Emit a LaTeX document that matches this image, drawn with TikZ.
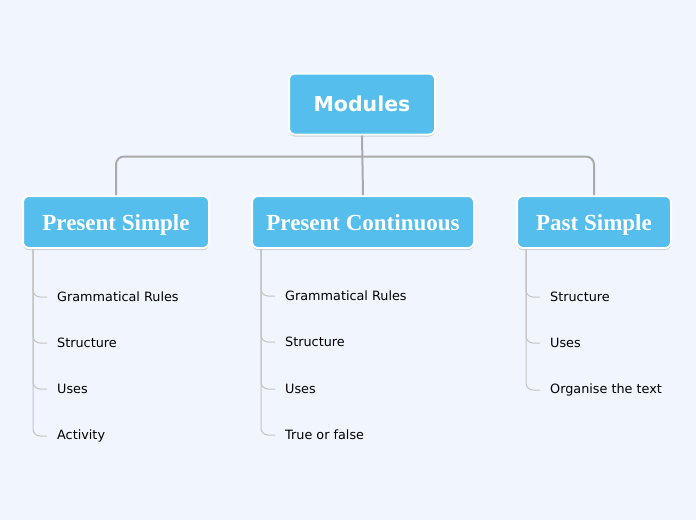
\documentclass[tikz,border=0pt]{standalone}
\usepackage{fontspec}
\usepackage{tikz}
\usetikzlibrary{shadows}
\newfontfamily\leaffont{DejaVu Sans}
\newfontfamily\titlefont{Liberation Serif}
\definecolor{pagebg}{RGB}{241, 245, 254}
\definecolor{topicbox}{RGB}{86, 190, 236}
\definecolor{trunkline}{RGB}{170, 170, 170}
\definecolor{twigline}{RGB}{196, 196, 196}

\begin{document}
\begin{tikzpicture}[x=1pt, y=-1pt,
		topic/.style={fill=topicbox, draw=white, line width=2pt, rounded corners=6pt,
			text=white, inner sep=0pt, minimum height=52pt,
			drop shadow={shadow xshift=0pt, shadow yshift=-2pt, opacity=0.35}},
		branch/.style={topic, text height=17pt, text depth=1pt,
			font=\titlefont\bfseries\fontsize{23}{26}\selectfont},
		leaf/.style={anchor=west, inner sep=0pt, font=\leaffont\fontsize{12.8}{14}\selectfont},
		trunk/.style={trunkline, line width=2pt, rounded corners=8pt},
		twig/.style={twigline, line width=1pt, rounded corners=7pt}]
			\def\gap{10}
			
			\fill[pagebg] (0, 0) rectangle (696, 520);
			
			% central topic and main branches
			\node[topic, minimum width=146pt, minimum height=61pt,
				font=\leaffont\bfseries\fontsize{20.5}{24}\selectfont] (mod) at (362, 104) {Modules};
			\node[branch, minimum width=186pt] (ps) at (116, 222) {Present Simple};
			\node[branch, minimum width=222pt] (pc) at (363, 222) {Present Continuous};
			\node[branch, minimum width=154pt] (pa) at (594, 222) {Past Simple};
			
			\coordinate (hub) at ([yshift=-21pt]mod.south);
			\draw[trunk] (ps.north) |- (hub) -| (pa.north);
			\draw[trunk] (mod.south) -- (pc.north);
			
			% subtopics
			\node[leaf] (ps1) at (57, 297) {Grammatical Rules};
			\node[leaf] (ps2) at (57, 343) {Structure};
			\node[leaf] (ps3) at (57, 389) {Uses};
			\node[leaf] (ps4) at (57, 436) {Activity};
			
			\node[leaf] (pc1) at (285, 296) {Grammatical Rules};
			\node[leaf] (pc2) at (285, 342) {Structure};
			\node[leaf] (pc3) at (285, 389) {Uses};
			\node[leaf] (pc4) at (285, 435) {True or false};
			
			\node[leaf] (pa1) at (550, 297) {Structure};
			\node[leaf] (pa2) at (550, 343) {Uses};
			\node[leaf] (pa3) at (550, 390) {Organise the text};
			
			\foreach \i in {1,2,3,4} {
				\draw[twig] ([xshift=11pt]ps.south west) |- ([xshift=-\gap pt]ps\i.west);
				\draw[twig] ([xshift=10pt]pc.south west) |- ([xshift=-\gap pt]pc\i.west);
			}
			\foreach \i in {1,2,3} {
				\draw[twig] ([xshift=10pt]pa.south west) |- ([xshift=-\gap pt]pa\i.west);
			}
			
		\end{tikzpicture}
\end{document}
